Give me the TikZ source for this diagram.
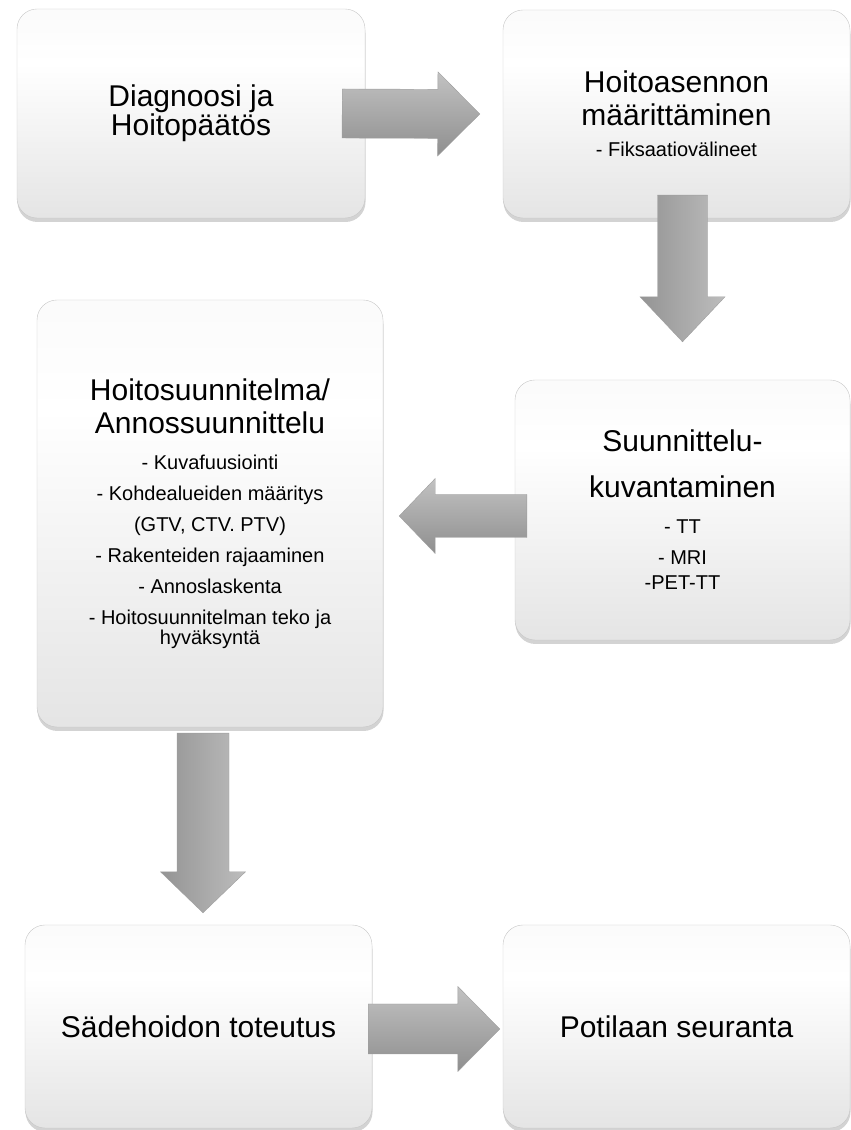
\documentclass[tikz,border=0pt]{standalone}
\usepackage{fontspec}
\setmainfont{Liberation Sans}
\usepackage{tikz}
\usetikzlibrary{calc}
\usetikzlibrary{shadows}
\pgfdeclareverticalshading{phaseshade}{100bp}{color(0bp)=(black!17); color(30bp)=(black!9); color(62bp)=(white); color(100bp)=(black!5)}
\newcommand{\phasefont}{\fontsize{30}{33}\selectfont\spaceskip=.278em\xspaceskip=.278em}
\newcommand{\phaseitems}{\par\vskip 5pt\fontsize{20}{21}\selectfont\spaceskip=.278em\xspaceskip=.278em\setlength{\parskip}{10pt}}
\tikzstyle{phasebox} = [rectangle, rounded corners=20pt, draw=black!22, thin,
shade, shading=phaseshade, drop shadow={shadow xshift=0.5pt, shadow yshift=-4pt, opacity=0.35},
align=center, text width=320pt, inner sep=4pt]
\tikzset{
  flowarrow/.style n args={3}{
    to path={let \p1=(\tikztostart), \p2=(\tikztotarget),
      \n1={atan2(\y2-\y1,\x2-\x1)}, \p3=($(\p2)+({\n1+180}:#3)$) in
      ($(\p1)+({\n1+90}:#1)$) -- ($(\p3)+({\n1+90}:#1)$) -- ($(\p3)+({\n1+90}:#2)$) -- (\p2)
      -- ($(\p3)+({\n1-90}:#2)$) -- ($(\p3)+({\n1-90}:#1)$) -- ($(\p1)+({\n1-90}:#1)$) -- cycle}},
  hflow/.style={top color=black!24, bottom color=black!44, draw=black!38, line width=0.4pt},
  vflow/.style={left color=black!42, right color=black!26, draw=black!38, line width=0.4pt}
}

\begin{document}
\begin{tikzpicture}[x=1pt, y=1pt]
    \useasboundingbox (0,0) rectangle (851,1130);
    \node[phasebox, minimum width=348pt, minimum height=209pt] (diag) at (191,1016.5)
        {\phasefont Diagnoosi ja\\Hoitopäätös};
    \node[phasebox, minimum width=347pt, minimum height=208pt] (asento) at (676.5,1016)
        {\phasefont Hoitoasennon\\määrittäminen\phaseitems - Fiksaatiovälineet};
    \node[phasebox, minimum width=335pt, minimum height=260pt] (kuvant) at (682.5,620)
        {\phasefont\fontsize{30}{46}\selectfont Suunnittelu-\\kuvantaminen\phaseitems - TT\par - MRI\par -PET-TT};
    \node[phasebox, minimum width=346pt, minimum height=427pt] (suunn) at (210,616.5)
        {\phasefont Hoitosuunnitelma/\\Annossuunnittelu\phaseitems - Kuvafuusiointi\par
        - Kohdealueiden määritys\par (GTV, CTV. PTV)\par - Rakenteiden rajaaminen\par
        - Annoslaskenta\par - Hoitosuunnitelman teko ja\\hyväksyntä};
    \node[phasebox, minimum width=347pt, minimum height=203pt] (toteutus) at (198.5,103.5)
        {\phasefont Sädehoidon toteutus};
    \node[phasebox, minimum width=347pt, minimum height=203pt] (seuranta) at (676.5,103.5)
        {\phasefont Potilaan seuranta};

    \path[flowarrow={24.5pt}{42pt}{42pt}, hflow] ([xshift=-23pt]diag.east) to ([xshift=-23pt]asento.west);
    \path[flowarrow={25pt}{42.5pt}{45pt}, vflow] ($(asento.south -| kuvant.north)+(0,23)$) to ([yshift=38pt]kuvant.north);
    \path[flowarrow={21.5pt}{37.5pt}{36pt}, hflow] ($(kuvant.west)+(12,-6)$) to ($(kuvant.west -| suunn.east)+(16,-6)$);
    \path[flowarrow={26pt}{42.5pt}{41pt}, vflow] ($(suunn.south)+(-7,-6)$) to ($(suunn.south |- toteutus.north)+(-7,12)$);
    \path[flowarrow={25pt}{42.5pt}{42pt}, hflow] ($(toteutus.east)+(-4,-2.5)$) to ($(seuranta.west)+(-3,-2.5)$);
\end{tikzpicture}
\end{document}
